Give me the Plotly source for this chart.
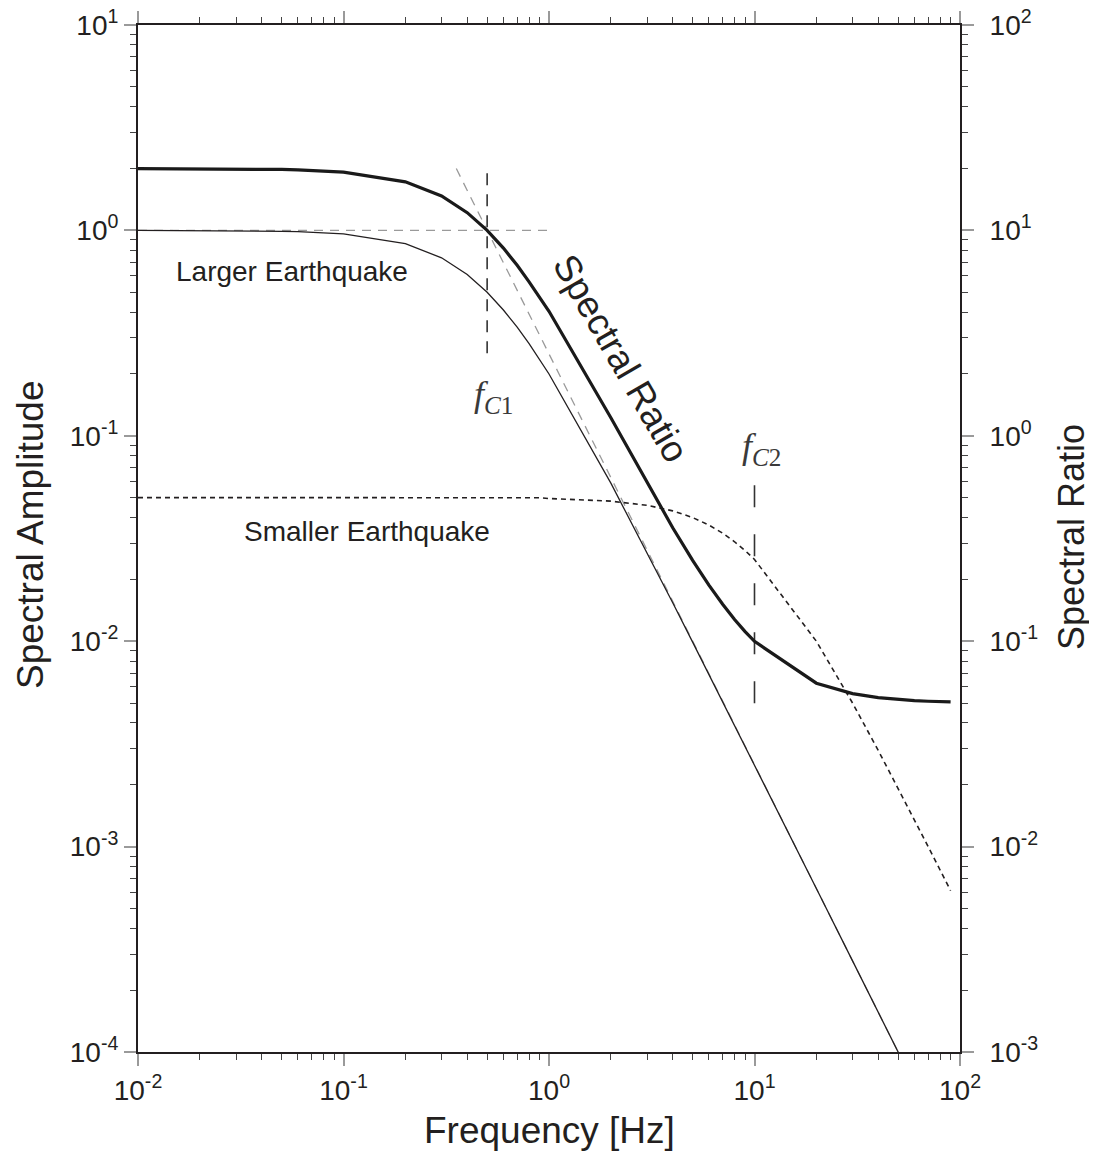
import plotly.graph_objects as go

# ---------------- data ----------------
freq = [0.01, 0.02, 0.03, 0.04, 0.05, 0.06, 0.07, 0.08, 0.09,
        0.1, 0.2, 0.3, 0.4, 0.5, 0.6, 0.7, 0.8, 0.9,
        1, 2, 3, 4, 5, 6, 7, 8, 9,
        10, 20, 30, 40, 50, 60, 70, 80, 90]

larger_amp = [0.9996, 0.9984, 0.9964, 0.9936, 0.9901, 0.9858, 0.9808, 0.9750, 0.9686,
              0.9615, 0.8621, 0.7353, 0.6098, 0.5000, 0.4098, 0.3378, 0.2809, 0.2358,
              0.2000, 0.05882, 0.02703, 0.01538, 0.009901, 0.006897, 0.005076, 0.003891, 0.003077,
              0.002494, 6.246e-4, 2.777e-4, 1.562e-4, 9.999e-5, 6.944e-5, 5.102e-5, 3.906e-5, 3.086e-5]

smaller_amp = [0.05, 0.05, 0.05, 0.05, 0.05, 0.05, 0.05, 0.05, 0.049996,
               0.0499995, 0.049998, 0.0499955, 0.049992, 0.0499875, 0.049982, 0.049976, 0.049968, 0.04996,
               0.049505, 0.048077, 0.045872, 0.043103, 0.04, 0.036765, 0.033557, 0.030488, 0.027624,
               0.025, 0.01, 0.005, 0.002941, 0.001923, 0.001351, 0.001, 7.692e-4, 6.098e-4]

spectral_ratio = [19.992, 19.968, 19.928, 19.872, 19.802, 19.716, 19.616, 19.50, 19.372,
                  19.23, 17.24, 14.71, 12.20, 10.00, 8.20, 6.76, 5.62, 4.72,
                  4.04, 1.2235, 0.5892, 0.3569, 0.2475, 0.1876, 0.1513, 0.1276, 0.1114,
                  0.0998, 0.06246, 0.05554, 0.05311, 0.05200, 0.05140, 0.05102, 0.05078, 0.05061]

# asymptotes of the larger event (grey dashed)
flat_asym_f = [0.01, 1.0]
flat_asym_v = [1.0, 1.0]
slope_asym_f = [0.354, 50]
slope_asym_v = [2.0, 1e-4]

# corner-frequency markers
fc1_f = [0.5, 0.5]
fc1_v = [1.9, 0.234]
fc2_f = [10, 10]
fc2_v = [0.0575, 0.00478]

left_tickvals = [1e-4, 1e-3, 1e-2, 1e-1, 1, 10]
left_ticktext = ["10<sup>-4</sup>", "10<sup>-3</sup>", "10<sup>-2</sup>",
                 "10<sup>-1</sup>", "10<sup>0</sup>", "10<sup>1</sup>"]
right_tickvals = [1e-3, 1e-2, 1e-1, 1, 10, 100]
right_ticktext = ["10<sup>-3</sup>", "10<sup>-2</sup>", "10<sup>-1</sup>",
                  "10<sup>0</sup>", "10<sup>1</sup>", "10<sup>2</sup>"]
x_tickvals = [0.01, 0.1, 1, 10, 100]
x_ticktext = ["10<sup>-2</sup>", "10<sup>-1</sup>", "10<sup>0</sup>",
              "10<sup>1</sup>", "10<sup>2</sup>"]


def minor_vals(lo, hi):
    out = []
    for e in range(lo, hi):
        for m in range(2, 10):
            out.append(m * 10 ** e)
    return out


# ---------------- figure ----------------
OFF = 8                      # default page margin around the plot div
W, H = 1097 - 2 * OFF, 1162 - 2 * OFF
L, R, T, B = 138, 960, 25, 1052   # plot-area edges in the window
TXT = "#231f20"
FONT = "Liberation Sans, Arial, Helvetica, sans-serif"


def px(x, y):
    return (x - L) / (R - L), 1 - (y - T) / (B - T)


fig = go.Figure()

fig.add_trace(go.Scatter(x=flat_asym_f, y=flat_asym_v, mode="lines",
                         line=dict(color="#9a9a9a", width=1.3, dash="9px,7px"),
                         showlegend=False, hoverinfo="skip"))
fig.add_trace(go.Scatter(x=slope_asym_f, y=slope_asym_v, mode="lines",
                         line=dict(color="#9a9a9a", width=1.3, dash="9px,7px"),
                         showlegend=False, hoverinfo="skip"))
fig.add_trace(go.Scatter(x=freq, y=larger_amp, mode="lines", name="Larger Earthquake",
                         line=dict(color="#231f20", width=1.3), showlegend=False))
fig.add_trace(go.Scatter(x=freq, y=smaller_amp, mode="lines", name="Smaller Earthquake",
                         line=dict(color="#231f20", width=1.6, dash="5px,4px"),
                         showlegend=False))
fig.add_trace(go.Scatter(x=fc1_f, y=fc1_v, mode="lines",
                         line=dict(color="#333333", width=1.6, dash="12px,9px"),
                         showlegend=False, hoverinfo="skip"))
fig.add_trace(go.Scatter(x=fc2_f, y=fc2_v, mode="lines",
                         line=dict(color="#333333", width=1.6, dash="22px,27px"),
                         showlegend=False, hoverinfo="skip"))
fig.add_trace(go.Scatter(x=freq, y=spectral_ratio, mode="lines", name="Spectral Ratio",
                         yaxis="y2", line=dict(color="#1a1a1a", width=3.2),
                         showlegend=False))

tickfont = dict(family=FONT, size=28, color=TXT)

fig.update_layout(
    width=W, height=H,
    margin=dict(l=L - OFF, r=W + OFF - R, t=T - OFF, b=H + OFF - B, pad=0,
                autoexpand=False),
    paper_bgcolor="white", plot_bgcolor="white",
    xaxis=dict(type="log", range=[-2, 2], showgrid=False, zeroline=False, automargin=False,
               showline=True, linecolor="#231f20", linewidth=2, mirror="ticks",
               ticks="outside", ticklen=12, tickwidth=1.5, tickcolor="#9a9a9a",
               ticklabeloverflow="allow",
               tickvals=x_tickvals, ticktext=x_ticktext, tickfont=tickfont,
               minor=dict(ticks="outside", ticklen=6, tickwidth=1, tickcolor="#444444",
                          tickvals=minor_vals(-2, 2), showgrid=False)),
    yaxis=dict(type="log", range=[-4, 1], showgrid=False, zeroline=False, automargin=False,
               showline=True, linecolor="#231f20", linewidth=2, mirror=False,
               ticks="outside", ticklen=12, tickwidth=1.5, tickcolor="#9a9a9a",
               ticklabeloverflow="allow",
               tickvals=left_tickvals, ticktext=left_ticktext, tickfont=tickfont,
               minor=dict(ticks="outside", ticklen=6, tickwidth=1, tickcolor="#444444",
                          tickvals=minor_vals(-4, 1), showgrid=False)),
    yaxis2=dict(type="log", range=[-3, 2], overlaying="y", side="right", automargin=False,
                showgrid=False, zeroline=False,
                showline=True, linecolor="#231f20", linewidth=2,
                ticks="outside", ticklen=12, tickwidth=1.5, tickcolor="#9a9a9a",
                ticklabeloverflow="allow",
                tickvals=right_tickvals, ticktext=right_ticktext, tickfont=tickfont,
                ticklabelstandoff=10,
                minor=dict(ticks="outside", ticklen=6, tickwidth=1, tickcolor="#444444",
                           tickvals=minor_vals(-3, 2), showgrid=False)),
)

ann = []


def add_text(x, y, text, size, angle=0, family=FONT, color=TXT, yanchor="middle"):
    xp, yp = px(x, y)
    ann.append(dict(x=xp, y=yp, xref="paper", yref="paper", text=text,
                    showarrow=False, textangle=angle, xanchor="center", yanchor=yanchor,
                    font=dict(family=family, size=size, color=color)))


add_text(30, 535, "Spectral Amplitude", 37, angle=-90)
add_text(1071, 537, "Spectral Ratio", 36, angle=-90)
add_text(549, 1153, "Frequency [Hz]", 37, yanchor="bottom")
add_text(292, 271, "Larger Earthquake", 28)
add_text(367, 531, "Smaller Earthquake", 28)
add_text(621, 358, "Spectral Ratio", 37, angle=60)
add_text(493, 396, "<i>f</i><sub><i>C</i>1</sub>", 36,
         family="Liberation Serif, Times New Roman, serif", color="#3a3a3a")
add_text(761, 448, "<i>f</i><sub><i>C</i>2</sub>", 36,
         family="Liberation Serif, Times New Roman, serif", color="#3a3a3a")

fig.update_layout(annotations=ann)

fig.write_html("out.html")
